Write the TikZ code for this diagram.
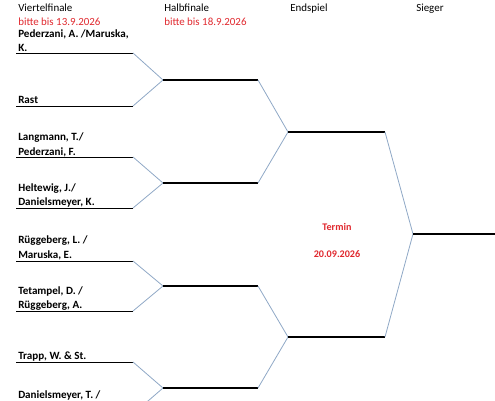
\documentclass[tikz,border=0pt]{standalone}
\usepackage{fontspec}
\setmainfont{Carlito}
\definecolor{bred}{HTML}{E0282E}
\definecolor{dline}{HTML}{8FA8C6}
\tikzset{
  txtlbl/.style={anchor=base west,inner sep=0pt,font=\fontsize{8.2}{9.8}\selectfont},
  playerlbl/.style={anchor=base west,inner sep=0pt,font=\fontsize{8.3}{9.8}\selectfont\bfseries},
  datelbl/.style={anchor=base west,inner sep=0pt,text=bred,font=\fontsize{8.2}{9.8}\selectfont},
  terminlbl/.style={anchor=base,inner sep=0pt,text=bred,font=\fontsize{7.6}{9}\selectfont\bfseries},
  qline/.style={line width=0.7pt,black},
  sline/.style={line width=1.9pt,black},
  diag/.style={line width=0.6pt,dline}
}
\begin{document}
\begin{tikzpicture}[x=0.75pt,y=-0.75pt]
\useasboundingbox (0,0) rectangle (495,400);
\clip (0,0) rectangle (495,400);
% headers
\node[txtlbl] (hq) at (18,11) {Viertelfinale};
\node[datelbl] (dq) at (18,25) {bitte bis 13.9.2026};
\node[txtlbl] (hs) at (164,11) {Halbfinale};
\node[datelbl] (ds) at (164,25) {bitte bis 18.9.2026};
\node[txtlbl] (he) at (290,11) {Endspiel};
\node[txtlbl] (hw) at (416,11) {Sieger};
% names
\node[playerlbl] (n1a) at (18,37.5) {Pederzani, A. /Maruska,};
\node[playerlbl] (n1b) at (18,51) {K.};
\node[playerlbl] (n2) at (18,103.5) {Rast};
\node[playerlbl] (n3a) at (18,140.5) {Langmann, T./};
\node[playerlbl] (n3b) at (18,155) {Pederzani, F.};
\node[playerlbl] (n4a) at (18,191) {Heltewig, J./};
\node[playerlbl] (n4b) at (18,205.5) {Danielsmeyer, K.};
\node[playerlbl] (n5a) at (18,243.5) {Rüggeberg, L. /};
\node[playerlbl] (n5b) at (18,258) {Maruska, E.};
\node[playerlbl] (n6a) at (18,294) {Tetampel, D. /};
\node[playerlbl] (n6b) at (18,308.5) {Rüggeberg, A.};
\node[playerlbl] (n7) at (18,359.5) {Trapp, W. \& St.};
\node[playerlbl] (n8a) at (18,398.5) {Danielsmeyer, T. /};
% termin
\node[terminlbl] (t1) at (337,230) {Termin};
\node[terminlbl] (t2) at (337,257) {20.09.2026};
% coordinates
\foreach \i/\y in {1/53,2/106,3/157,4/208,5/261,6/311,7/362,8/414}{
  \coordinate (qa\i) at (16,\y);
  \coordinate (qb\i) at (133,\y);
}
\foreach \i/\y in {1/80,2/183,3/286,4/388}{
  \coordinate (sa\i) at (163,\y);
  \coordinate (sb\i) at (258,\y);
}
\foreach \i/\y in {1/132,2/337}{
  \coordinate (fa\i) at (288,\y);
  \coordinate (fb\i) at (385,\y);
}
\coordinate (wa) at (413,234);
\coordinate (wb) at (496,234);
% quarterfinal lines
\foreach \i in {1,...,8} \draw[qline] (qa\i) -- (qb\i);
% diagonals to semis
\draw[diag] (qb1) -- (sa1) -- (qb2);
\draw[diag] (qb3) -- (sa2) -- (qb4);
\draw[diag] (qb5) -- (sa3) -- (qb6);
\draw[diag] (qb7) -- (sa4) -- (qb8);
% semis
\foreach \i in {1,...,4} \draw[sline] (sa\i) -- (sb\i);
\draw[diag] (sb1) -- (fa1) -- (sb2);
\draw[diag] (sb3) -- (fa2) -- (sb4);
% finals
\foreach \i in {1,2} \draw[sline] (fa\i) -- (fb\i);
\draw[diag] (fb1) -- (wa) -- (fb2);
\draw[sline] (wa) -- (wb);
\end{tikzpicture}
\end{document}
